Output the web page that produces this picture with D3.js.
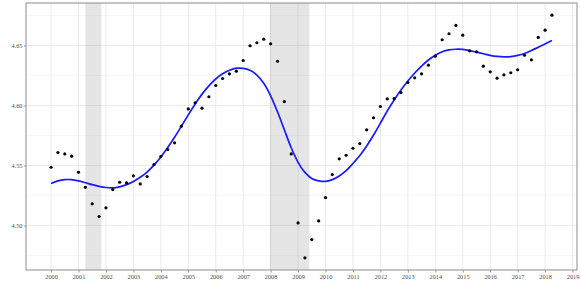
<!DOCTYPE html>
<html>
<head>
<meta charset="utf-8">
<script src="https://cdn.jsdelivr.net/npm/d3@7.9.0/dist/d3.min.js"></script>
<style>
  html, body { margin: 0; padding: 0; background: #fff; }
  svg { display: block; }
  .tick text { font-family: "Liberation Serif", "DejaVu Serif", serif; fill: #4d4d4d; }
</style>
</head>
<body>
<svg id="chart" width="581" height="291"></svg>
<script>
// quarterly dates (decimal years)
const quarters = [
  2000, 2000.25, 2000.5, 2000.75, 2001, 2001.25, 2001.5, 2001.75,
  2002, 2002.25, 2002.5, 2002.75, 2003, 2003.25, 2003.5, 2003.75,
  2004, 2004.25, 2004.5, 2004.75, 2005, 2005.25, 2005.5, 2005.75,
  2006, 2006.25, 2006.5, 2006.75, 2007, 2007.25, 2007.5, 2007.75,
  2008, 2008.25, 2008.5, 2008.75, 2009, 2009.25, 2009.5, 2009.75,
  2010, 2010.25, 2010.5, 2010.75, 2011, 2011.25, 2011.5, 2011.75,
  2012, 2012.25, 2012.5, 2012.75, 2013, 2013.25, 2013.5, 2013.75,
  2014, 2014.25, 2014.5, 2014.75, 2015, 2015.25, 2015.5, 2015.75,
  2016, 2016.25, 2016.5, 2016.75, 2017, 2017.25, 2017.5, 2017.75,
  2018, 2018.25
];

// observed series (log scale)
const observed = [
  4.5486, 4.5608, 4.5597, 4.5578, 4.5444, 4.5319, 4.5181, 4.5075,
  4.5148, 4.5300, 4.5361, 4.5356, 4.5414, 4.5347, 4.5408, 4.5508,
  4.5575, 4.5633, 4.5689, 4.5828, 4.5972, 4.6023, 4.5978, 4.6073,
  4.6167, 4.6225, 4.6264, 4.6286, 4.6375, 4.6498, 4.6523, 4.6553,
  4.6514, 4.6369, 4.6033, 4.5597, 4.5022, 4.4731, 4.4883, 4.5039,
  4.5233, 4.5425, 4.5556, 4.5586, 4.5644, 4.5683, 4.5798, 4.5898,
  4.5992, 4.6056, 4.6058, 4.6108, 4.6192, 4.6231, 4.6264, 4.6336,
  4.6411, 4.6548, 4.6598, 4.6667, 4.6586, 4.6456, 4.6448, 4.6328,
  4.6281, 4.6228, 4.6256, 4.6273, 4.6298, 4.6419, 4.6381, 4.6567,
  4.6628, 4.6753
];

// smoothed trend
const smooth = [
  4.5350, 4.5372, 4.5383, 4.5382, 4.5372, 4.5357, 4.5341, 4.5327,
  4.5317, 4.5314, 4.5323, 4.5341, 4.5368, 4.5402, 4.5446, 4.5503,
  4.5572, 4.5650, 4.5736, 4.5828, 4.5922, 4.6013, 4.6095, 4.6164,
  4.6221, 4.6264, 4.6294, 4.6311, 4.6309, 4.6293, 4.6253, 4.6185,
  4.6081, 4.5948, 4.5798, 4.5648, 4.5527, 4.5443, 4.5393, 4.5373,
  4.5368, 4.5383, 4.5413, 4.5458, 4.5517, 4.5583, 4.5663, 4.5754,
  4.5854, 4.5954, 4.6046, 4.6129, 4.6204, 4.6271, 4.6329, 4.6379,
  4.6419, 4.6448, 4.6464, 4.6469, 4.6467, 4.6458, 4.6445, 4.6431,
  4.6418, 4.6409, 4.6405, 4.6408, 4.6418, 4.6434, 4.6458, 4.6485,
  4.6513, 4.6542
];

// recession periods
const recessionStart = [2001.25, 2007.97];
const recessionEnd = [2001.83, 2009.41];

const yearTicks = d3.range(2000, 2020);
const yTicks = [4.50, 4.55, 4.60, 4.65];
const yMinor = [4.475, 4.525, 4.575, 4.625, 4.675];

const W = 581, H = 291;
const margin = { top: 3, right: 4, bottom: 21, left: 26 };

const svg = d3.select('#chart');

// ggplot-style 5% expansion
const xExt = d3.extent(quarters);
const yExt = d3.extent(observed);
const xPad = (xExt[1] - xExt[0]) * 0.05;
const yPad = (yExt[1] - yExt[0]) * 0.05;

const x = d3.scaleLinear()
  .domain([xExt[0] - xPad, xExt[1] + xPad])
  .range([margin.left, W - margin.right]);

const y = d3.scaleLinear()
  .domain([yExt[0] - yPad, yExt[1] + yPad])
  .range([H - margin.bottom, margin.top]);

const x0 = margin.left, x1 = W - margin.right;
const y0 = H - margin.bottom, y1 = margin.top;

// grid
const grid = svg.append('g');
grid.selectAll('.minor')
  .data(yMinor)
  .join('line')
  .attr('x1', x0).attr('x2', x1)
  .attr('y1', d => y(d)).attr('y2', d => y(d))
  .attr('stroke', '#f2f2f2').attr('stroke-width', 0.6);

grid.selectAll('.majorY')
  .data(yTicks)
  .join('line')
  .attr('x1', x0).attr('x2', x1)
  .attr('y1', d => y(d)).attr('y2', d => y(d))
  .attr('stroke', '#ebebeb').attr('stroke-width', 1);

grid.selectAll('.majorX')
  .data(yearTicks)
  .join('line')
  .attr('y1', y0).attr('y2', y1)
  .attr('x1', d => x(d)).attr('x2', d => x(d))
  .attr('stroke', '#ebebeb').attr('stroke-width', 1);

// recession shading
svg.append('g')
  .selectAll('rect')
  .data(recessionStart)
  .join('rect')
  .attr('x', d => x(d))
  .attr('width', (d, i) => x(recessionEnd[i]) - x(d))
  .attr('y', y1)
  .attr('height', y0 - y1)
  .attr('fill', '#7f7f7f')
  .attr('fill-opacity', 0.2);

// smooth line
const line = d3.line()
  .x((d, i) => x(quarters[i]))
  .y(d => y(d))
  .curve(d3.curveCatmullRom);

svg.append('path')
  .datum(smooth)
  .attr('d', line)
  .attr('fill', 'none')
  .attr('stroke', '#1a1aff')
  .attr('stroke-width', 1.7);

// points
svg.append('g')
  .selectAll('circle')
  .data(observed)
  .join('circle')
  .attr('cx', (d, i) => x(quarters[i]))
  .attr('cy', d => y(d))
  .attr('r', 1.6)
  .attr('fill', '#000');

// axes
const xAxis = d3.axisBottom(x)
  .tickValues(yearTicks)
  .tickFormat(d3.format('d'))
  .tickSize(2.5)
  .tickPadding(2);

const yAxis = d3.axisLeft(y)
  .tickValues(yTicks)
  .tickFormat(d3.format('.2f'))
  .tickSize(2)
  .tickPadding(1.5);

const gx = svg.append('g')
  .attr('transform', `translate(0,${y0})`)
  .call(xAxis);
const gy = svg.append('g')
  .attr('transform', `translate(${x0},0)`)
  .call(yAxis);

[gx, gy].forEach(g => {
  g.select('.domain').remove();
  g.selectAll('.tick line').attr('stroke', '#333').attr('stroke-width', 0.5);
  g.selectAll('.tick text').attr('font-size', 6.3);
});

// panel border
svg.append('rect')
  .attr('x', x0).attr('y', y1)
  .attr('width', x1 - x0).attr('height', y0 - y1)
  .attr('fill', 'none')
  .attr('stroke', '#8c8c8c')
  .attr('stroke-width', 1);
</script>
</body>
</html>
